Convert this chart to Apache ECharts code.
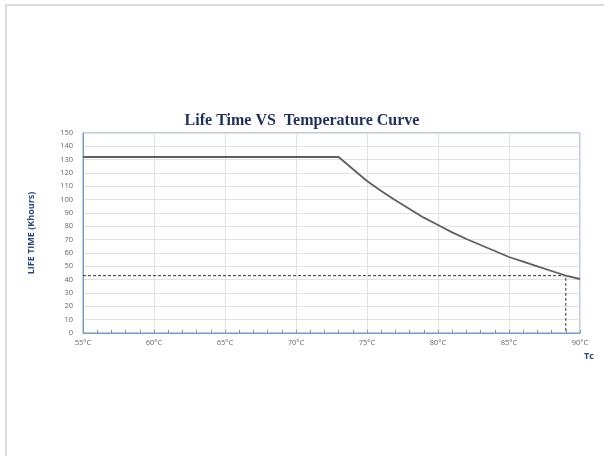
<!DOCTYPE html>
<html>
<head>
<meta charset="utf-8">
<script src="https://cdn.jsdelivr.net/npm/echarts@6/dist/echarts.min.js"></script>
<style>
  html, body { margin: 0; padding: 0; background: #fff; }
  #frame { position: absolute; left: 5px; top: 4px; width: 599px; height: 452px;
           border-left: 2px solid #d9d9d9; border-top: 2px solid #d9d9d9; }
  #main { position: absolute; left: 0; top: 0; width: 604px; height: 456px; }
</style>
</head>
<body>
<div id="frame"></div>
<div id="main"></div>
<script>
  // temperature (°C) and life time (Khours)
  var tempC = [55, 60, 65, 70, 73, 74, 75, 76, 77, 78, 79, 80, 81, 82, 83, 84, 85, 86, 87, 88, 89, 90]
  var lifeK = [132, 132, 132, 132, 132, 123, 114, 106.5, 99.5, 93, 86.5, 81, 75.5, 70.5, 66, 61.5, 57, 53.5, 50, 46.5, 43, 40.5]

  // dashed guide to the marked point
  var guideT = [55, 89, 89]
  var guideLife = [43, 43, 0]

  var xTicks = [55, 60, 65, 70, 75, 80, 85, 90]
  var yTicks = [0, 10, 20, 30, 40, 50, 60, 70, 80, 90, 100, 110, 120, 130, 140, 150]

  var curve = tempC.map(function (t, i) { return [t, lifeK[i]] })
  var guide = guideT.map(function (t, i) { return [t, guideLife[i]] })

  var chart = echarts.init(document.getElementById('main'))

  var option = {
    animation: false,
    title: {
      text: 'Life Time VS  Temperature Curve',
      left: 'center',
      top: 108,
      textStyle: {
        fontFamily: 'Liberation Serif',
        fontWeight: 'bold',
        fontSize: 16,
        color: '#1f2f55'
      }
    },
    grid: {
      left: 83,
      right: 24,
      top: 133,
      bottom: 123,
      show: true,
      borderColor: '#7b9cc2',
      borderWidth: 1
    },
    xAxis: {
      type: 'value',
      min: xTicks[0],
      max: xTicks[xTicks.length - 1],
      interval: 5,
      axisLine: { lineStyle: { color: '#7b9cc2', width: 1 } },
      axisTick: { inside: true, length: 3, lineStyle: { color: '#7b9cc2' } },
      minorTick: { show: true, splitNumber: 5, length: 3, lineStyle: { color: '#7b9cc2' } },
      splitLine: { show: true, lineStyle: { color: '#e2e2e2', width: 1 } },
      axisLabel: {
        formatter: '{value}°C',
        fontFamily: 'Open Sans',
        fontSize: 7.5,
        color: '#666',
        margin: 6
      }
    },
    yAxis: {
      type: 'value',
      min: yTicks[0],
      max: yTicks[yTicks.length - 1],
      interval: 10,
      name: 'LIFE TIME (Khours)',
      nameLocation: 'middle',
      nameGap: 47,
      nameTextStyle: {
        fontFamily: 'Open Sans',
        fontWeight: 'bold',
        fontSize: 9,
        color: '#2c4a74'
      },
      axisLine: { show: true, lineStyle: { color: '#7b9cc2', width: 1 } },
      axisTick: { show: false },
      splitLine: { show: true, lineStyle: { color: '#e2e2e2', width: 1 } },
      axisLabel: {
        fontFamily: 'Open Sans',
        fontSize: 7.5,
        color: '#666',
        margin: 10
      }
    },
    graphic: [{
      type: 'text',
      left: 584,
      top: 352,
      style: {
        text: 'Tc',
        fontFamily: 'Open Sans',
        fontWeight: 'bold',
        fontSize: 9,
        fill: '#2c4a74'
      }
    }],
    series: [
      {
        type: 'line',
        data: curve,
        symbol: 'none',
        lineStyle: { color: '#5f5f5f', width: 1.8 },
        z: 3
      },
      {
        type: 'line',
        data: guide,
        symbol: 'none',
        lineStyle: { color: '#333', width: 1, type: [3, 2] },
        z: 2
      }
    ]
  }

  option && chart.setOption(option)
</script>
</body>
</html>
